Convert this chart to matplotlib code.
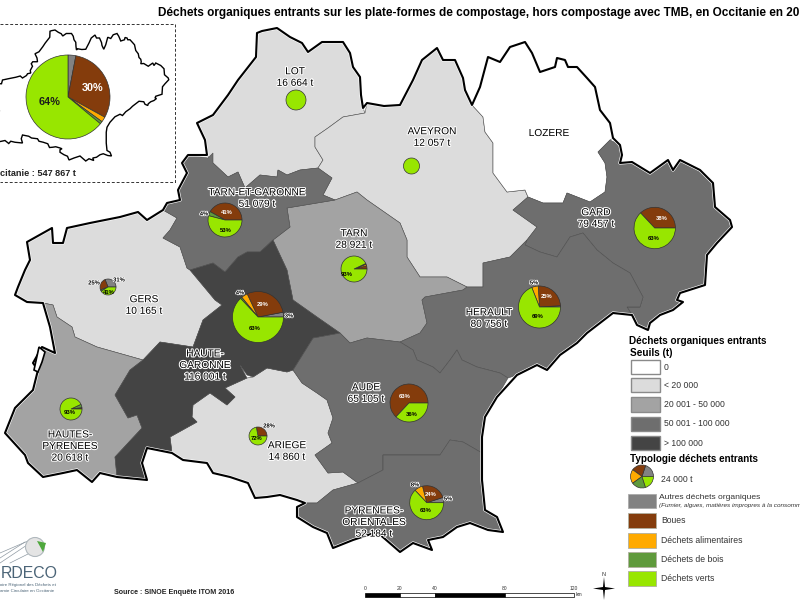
import matplotlib
matplotlib.use("Agg")
import matplotlib.pyplot as plt
import matplotlib.patheffects as pe
from matplotlib.patches import Polygon, Rectangle, Circle

plt.rcParams['font.family'] = ['Liberation Sans', 'DejaVu Sans']

LIGHT, MID, DARK, DARKEST = '#dcdcdc', '#a3a3a3', '#6e6e6e', '#444444'
C_PIE = ['#828282', '#843c0c', '#ffaa00', '#5f9a3c', '#98e600']

# department outlines (pixel positions)
lot = [(257,33),(262,31),(277,28),(290,37),(302,43),(308,52),(322,42),(343,42),(350,53),(353,67),(360,77),(361,95),(363,108),(365,113),
       (343,117),(328,128),(315,137),(315,147),(323,160),(318,168),(300,170),(287,175),(278,170),(277,177),(260,175),(245,188),(238,172),(228,177),(213,163),(207,155),(205,140),(197,123),(213,115),(228,95),(238,80),(256,57)]
aveyron = [(365,113),(367,103),(384,106),(400,105),(413,80),(422,60),(437,48),(443,60),(455,60),(463,78),(465,90),(472,105),
           (483,117),(485,132),(493,143),(493,173),(507,192),(525,190),(528,197),(513,210),(537,227),(527,240),(510,257),(483,263),(483,287),(467,287),(447,277),(420,277),(407,257),(407,240),(400,223),(367,200),(357,192),(335,200),(323,195),(332,178),(318,168),(323,160),(315,147),(315,137),(328,128),(343,117)]
lozere = [(472,105),(480,87),(488,57),(500,62),(510,47),(525,42),(532,53),(540,72),(555,67),(557,58),(565,60),(568,67),(577,67),(587,78),(595,87),(600,110),(610,123),(613,138),(610,140),
          (598,152),(605,163),(607,177),(605,192),(590,202),(567,193),(563,203),(543,203),(528,197),(525,190),(507,192),(493,173),(493,143),(485,132),(483,117)]
gard = [(610,140),(620,145),(622,155),(620,163),(632,162),(650,173),(668,160),(673,170),(680,160),(700,170),(713,183),(715,207),(730,220),(732,227),(717,243),(707,255),(705,285),(680,293),(677,300),(683,302),
        (673,310),(660,315),(650,323),(648,330),(637,325),(632,315),(627,307),(640,307),(643,297),(630,273),(613,263),(597,250),(583,233),(570,237),(557,257),(540,252),(525,245),(527,240),(537,227),(513,210),(528,197),(543,203),(563,203),(567,193),(590,202),(605,192),(607,177),(605,163),(598,152)]
herault = [(400,342),(420,333),(427,323),(422,300),(425,297),(463,290),(467,287),(483,287),(483,263),(510,257),(527,240),(525,245),(540,252),(557,257),(570,237),(583,233),(597,250),(613,263),(630,273),(643,297),(640,307),(627,307),(632,315),
           (613,313),(587,333),(577,343),(560,355),(547,370),(537,365),(517,375),(508,378),(500,373),(477,367),(462,360),(457,350),(450,360),(440,373),(433,367),(417,360),(413,350)]
tarn = [(273,240),(290,227),(287,208),(317,203),(335,200),(357,192),(367,200),(400,223),(407,240),(407,257),(420,277),(447,277),(467,287),(463,290),(425,297),(422,300),(427,323),(420,333),(400,342),(367,338),(350,343),(340,333),(317,317),(293,300),(287,270)]
tg = [(188,155),(208,158),(213,153),(213,163),(228,177),(238,172),(245,188),(260,175),(277,177),(278,170),(287,175),(300,170),(318,168),(332,178),(323,195),(335,200),(317,203),(287,208),(290,227),(273,240),(260,252),(247,252),(238,257),(225,272),(213,263),(190,270),(187,268),(180,247),(163,238),(170,230),(177,218),(163,210),(167,203),(180,200),(178,190),(187,173),(182,163)]
gers = [(163,210),(147,220),(138,212),(120,217),(90,223),(67,228),(63,243),(53,243),(52,228),(27,242),(30,260),(25,270),(18,287),(15,295),(27,302),(43,303),(53,305),(57,317),(72,327),(75,337),(97,347),(143,360),(160,342),(193,347),(203,320),(222,305),(215,300),(190,270),(187,268),(180,247),(163,238),(170,230),(177,218)]
hgar = [(190,270),(213,263),(225,272),(238,257),(247,252),(260,252),(273,240),(287,270),(293,300),(317,317),(340,333),(313,338),(293,370),(287,372),(267,368),(253,377),(247,375),(240,365),(247,378),(225,388),(235,397),(227,405),(210,393),(193,405),(192,417),(197,422),(170,437),(172,453),(147,448),(142,463),(147,480),(117,477),(115,457),(142,428),(137,415),(128,418),(115,395),(130,370),(143,360),(160,342),(193,347),(203,320),(222,305),(215,300)]
hpyr = [(43,303),(53,305),(57,317),(72,327),(75,337),(97,347),(143,360),(130,370),(115,395),(128,418),(137,415),(142,428),(115,457),(117,477),(100,473),(92,482),(77,470),(63,473),(43,477),(28,463),(25,455),(5,433),(15,408),(33,390),(38,370),(33,363),(42,347),(55,353),(50,327)]
ariege = [(170,437),(197,422),(192,417),(193,405),(210,393),(227,405),(235,397),(225,388),(247,378),(253,377),(267,368),(287,372),(293,370),(302,383),(317,393),(327,400),(333,418),(328,433),(332,443),(315,455),(328,473),(343,472),(358,483),(333,490),(317,503),(305,503),(297,500),(280,495),(267,497),(255,498),(248,483),(230,477),(213,473),(207,463),(183,460),(172,453)]
aude = [(293,370),(313,338),(340,333),(350,343),(367,338),(400,342),(413,350),(417,360),(433,367),(440,373),(450,360),(457,350),(462,360),(477,367),(500,373),(508,378),(497,397),(485,417),(482,437),(482,453),(463,442),(450,440),(440,455),(400,455),(383,455),(383,470),(358,483),(343,472),(328,473),(315,455),(332,443),(328,433),(333,418),(327,400),(317,393),(302,383)]
pyror = [(358,483),(383,470),(383,455),(400,455),(440,455),(450,440),(463,442),(482,453),(482,480),(485,510),(497,517),(503,532),(488,530),(470,523),(457,527),(443,537),(428,540),(432,550),(413,543),(400,552),(377,532),(353,540),(333,548),(327,533),(313,527),(297,517),(297,507),(305,503),(317,503),(333,490)]
outer = [(257,33),(262,31),(277,28),(290,37),(302,43),(308,52),(322,42),(343,42),(350,53),(353,67),(360,77),(361,95),(363,108),(367,103),(384,106),(400,105),(413,80),(422,60),(437,48),(443,60),(455,60),(463,78),(465,90),(472,105),
         (480,87),(488,57),(500,62),(510,47),(525,42),(532,53),(540,72),(555,67),(557,58),(565,60),(568,67),(577,67),(587,78),(595,87),(600,110),(610,123),(613,138),(620,145),(622,155),(620,163),(632,162),(650,173),(668,160),(673,170),(680,160),(700,170),(713,183),(715,207),(730,220),(732,227),(717,243),(707,255),(705,285),(680,293),(677,300),(683,302),
         (673,310),(660,315),(650,323),(648,330),(637,325),(632,315),(613,313),(587,333),(577,343),(560,355),(547,370),(537,365),(517,375),(497,397),(485,417),(482,437),(482,480),(485,510),(497,517),(503,532),(488,530),(470,523),(457,527),(443,537),(428,540),(432,550),(413,543),(400,552),(377,532),(353,540),(333,548),(327,533),(313,527),(297,517),(297,507),(305,503),
         (297,500),(280,495),(267,497),(255,498),(248,483),(230,477),(213,473),(207,463),(183,460),(172,453),(147,448),(142,463),(147,480),(117,477),(100,473),(92,482),(77,470),(63,473),(43,477),(28,463),(25,455),(5,433),(15,408),(33,390),(38,370),(33,363),(42,347),(55,353),(50,327),(43,303),(27,302),(15,295),(18,287),(25,270),(30,260),(27,242),(52,228),(53,243),(63,243),(67,228),(90,223),(120,217),(138,212),(147,220),(163,210),(167,203),(180,200),(178,190),(187,173),(182,163),(188,155),(207,155),(205,140),(197,123),(213,115),(228,95),(238,80),(256,57)]
enclave = [(34,370),(39,347),(45,352),(42,362),(38,372)]

departments = [('lot',lot,LIGHT),('aveyron',aveyron,LIGHT),('lozere',lozere,'white'),('gers',gers,LIGHT),('ariege',ariege,LIGHT),
               ('tarn',tarn,MID),('hpyr',hpyr,MID),('gard',gard,DARK),('herault',herault,DARK),('tg',tg,DARK),('aude',aude,DARK),('pyror',pyror,DARK),('hgar',hgar,DARKEST)]

# share of each waste type: autres, boues, alimentaires, bois, verts
pie_lot = [0,0,0,0,100]
pie_aveyron = [0,0,0,0,100]
pie_tg = [0,41,0,4,53]
pie_tarn = [0,4,2,1,93]
pie_gard = [0,37,0,0,63]
pie_herault = [1,25,5,0,69]
pie_gers = [31,25,0,3,41]
pie_hgar = [3,29,4,1,63]
pie_aude = [0,63,0,0,37]
pie_hpyr = [0,2,0,5,93]
pie_ariege = [0,28,0,0,72]
pie_pyror = [5,24,8,0,63]
pie_total = [3,30,2,1,64]
pie_legend = [20,20,20,20,20]

pies = [(pie_lot,296,100,10),(pie_aveyron,411.5,166,8),(pie_tg,225,220,17),(pie_tarn,354,269,13),(pie_gard,654.7,228,20.7),
        (pie_herault,539.5,307,21),(pie_gers,108,287,8),(pie_hgar,258,317,25.5),(pie_aude,409,403,19),(pie_hpyr,71,409,11),
        (pie_ariege,258,436,9),(pie_pyror,426.7,502.7,17),(pie_legend,642,476.5,11.5)]

dept_labels = [('LOT\n16 664 t',295,77),('AVEYRON\n12 057 t',432,137),('LOZERE',549,133),('TARN-ET-GARONNE\n51 079 t',257,198),('TARN\n28 921 t',354,239),
               ('GARD\n79 457 t',596,218),('HERAULT\n80 756 t',489,318),('GERS\n10 165 t',144,305),('HAUTE-\nGARONNE\n116 001 t',205,365),('AUDE\n65 105 t',366,393),
               ('HAUTES-\nPYRENEES\n20 618 t',70,446),('ARIEGE\n14 860 t',287,451),('PYRENEES-\nORIENTALES\n52 184 t',374,522)]
pct_labels = [('41%',227,212,'w'),('53%',226,230,'k'),('4%',204,214,'h'),('93%',347,274,'k'),('38%',662,219,'w'),('63%',654,238,'k'),
              ('5%',534,283,'h'),('25%',547,296,'w'),('69%',538,316,'k'),('31%',119,280,'h'),('25%',94,283,'h'),('41%',109,292,'k'),
              ('4%',240,293,'h'),('29%',263,305,'w'),('3%',289,316,'h'),('63%',255,329,'k'),('63%',405,396,'w'),('36%',412,415,'k'),
              ('93%',70,413,'k'),('28%',269,426,'h'),('72%',257,439,'k'),('8%',415,485,'h'),('24%',431,494,'w'),('5%',448,499,'h'),('63%',426,511,'k')]
seuils = ['0','< 20 000','20 001 - 50 000','50 001 - 100 000','> 100 000']
seuil_colors = ['white',LIGHT,MID,DARK,DARKEST]
seuil_y = [359.5,377.5,397,416.5,435.5]
types = ['Boues','Déchets alimentaires','Déchets de bois','Déchets verts']
type_y = [513,533,552,571]
scale_ticks = [0,20,40,80,120]
scale_x = [365,400,435,505,574]

H = 600
def fy(y): return H - y
def flip(pts): return [(x, H - y) for x, y in pts]

fig = plt.figure(figsize=(8,6), dpi=100)
ax = fig.add_axes([0,0,1,1])

for name, pts, col in departments:
    ax.add_patch(Polygon(flip(pts), closed=True, facecolor=col, edgecolor='#4d4d4d', lw=0.4, zorder=2))
ax.add_patch(Polygon(flip(outer), closed=True, fill=False, edgecolor='black', lw=1.5, joinstyle='round', zorder=3,
                     path_effects=[pe.withStroke(linewidth=2.4, foreground='white')]))
ax.add_patch(Polygon(flip(enclave), closed=True, facecolor='white', edgecolor='black', lw=1.2, zorder=3))

def draw_pie(vals, x, y, r, start=0, cc=True):
    nz = [(v, c) for v, c in zip(vals, C_PIE) if v > 0]
    ax.pie([v for v, c in nz], colors=[c for v, c in nz], center=(x, fy(y)), radius=r, startangle=start, counterclock=cc,
           frame=True, normalize=True, wedgeprops=dict(edgecolor='#333333', lw=0.5, zorder=5))

for vals, x, y, r in pies:
    draw_pie(vals, x, y, r)

for s, x, y in dept_labels:
    ax.text(x, fy(y), s, ha='center', va='center', fontsize=7.3, color='black', linespacing=1.2, zorder=7,
            path_effects=[pe.withStroke(linewidth=1.5, foreground='white')])
for s, x, y, kind in pct_labels:
    col = {'w':'white','k':'black','h':'black'}[kind]
    ax.text(x, fy(y), s, ha='center', va='center', fontsize=4.2, color=col, fontweight='bold', zorder=8,
            path_effects=[pe.withStroke(linewidth=1.0, foreground='white')] if kind == 'h' else None)

# inset
inset_tf = lambda pts: [(0.25*x - 14.25, 0.25*y + 23) for x, y in pts]
ax.add_patch(Polygon(flip(inset_tf(outer)), closed=True, facecolor='white', edgecolor='black', lw=1.0, zorder=4))
ax.plot([0,174.5,174.5,0],[fy(24),fy(24),fy(182),fy(182)], color='#333333', lw=0.7, ls=(0,(3,2)), zorder=4)
draw_pie(pie_total, 68, 97, 42, start=90, cc=False)
ax.text(92.5, fy(88), '30%', ha='center', va='center', color='white', fontsize=7.8, fontweight='bold', zorder=8)
ax.text(50, fy(102), '64%', ha='center', va='center', color='#1c1c1c', fontsize=7.8, fontweight='bold', zorder=8)
ax.text(0.5, fy(174), 'citanie : 547 867 t', ha='left', va='center', fontsize=6.6, fontweight='bold', color='#222222', zorder=8)

# title (the reference shows it cut at this point by the picture edge)
ax.text(158, fy(13), 'Déchets organiques entrants sur les plate-formes de compostage, hors compostage avec TMB, en Occitanie en 20',
        ha='left', va='center', fontsize=8.48, fontweight='bold', zorder=8)

# legend
ax.text(629, fy(341), 'Déchets organiques entrants', fontsize=7.2, fontweight='bold', ha='left', va='center')
ax.text(630, fy(352.5), 'Seuils (t)', fontsize=7.2, fontweight='bold', ha='left', va='center')
for s, c, y in zip(seuils, seuil_colors, seuil_y):
    ax.add_patch(Rectangle((630.5, fy(y+14.5)), 29, 14.5, facecolor=c, edgecolor='#8a8a8a', lw=1.0))
    ax.text(664, fy(y+7.5), s, fontsize=6.2, color='#333333', ha='left', va='center')
ax.text(630, fy(459), 'Typologie déchets entrants', fontsize=7.1, fontweight='bold', ha='left', va='center')
ax.text(661, fy(479), '24 000 t', fontsize=6.2, color='#333333', ha='left', va='center')
ax.add_patch(Rectangle((628, fy(508)), 28, 14.5, facecolor=C_PIE[0], edgecolor='#aaaaaa', lw=0.6))
ax.text(659, fy(497.5), 'Autres déchets organiques', fontsize=6.1, color='#333333', ha='left', va='center')
ax.text(659, fy(506), '(Fumier, algues, matières impropres à la consomm', fontsize=4.6, style='italic', color='#333333', ha='left', va='center')
for s, c, y in zip(types, C_PIE[1:], type_y):
    ax.add_patch(Rectangle((628, fy(y+14.5)), 28, 14.5, facecolor=c, edgecolor='#b0b0a0', lw=0.6))
    ax.text(661, fy(y+7.5), s, fontsize=6.2, color='#333333', ha='left', va='center')

# source, scale, north arrow
ax.text(114, fy(592.5), 'Source : SINOE Enquête ITOM 2016', fontsize=5.1, fontweight='bold', color='#222222', ha='left', va='center')
for i in range(4):
    ax.add_patch(Rectangle((scale_x[i], fy(596.5)), scale_x[i+1]-scale_x[i], 4, facecolor='black' if i in (0,2) else 'white', edgecolor='black', lw=0.5))
for t, x in zip(scale_ticks, scale_x):
    ax.text(x, fy(589), str(t), fontsize=3.6, ha='center', va='center', color='#333333')
ax.text(576, fy(595), 'km', fontsize=3.6, ha='left', va='center', color='#333333')
ax.add_patch(Polygon(flip([(604,577),(605,587),(615,588.5),(605,590),(604,600),(603,590),(593,588.5),(603,587)]), closed=True, facecolor='black', edgecolor='none'))
ax.text(604, fy(574), 'N', fontsize=4, ha='center', va='center', color='#333333')

# logo
for (x0, y0, x1, y1) in [(0,563,27,545),(0,558,25,542),(10,563,30,553),(0,553,28,541)]:
    ax.plot([x0, x1], [fy(y0), fy(y1)], color='#8f9aa3', lw=0.5, zorder=2)
ax.add_patch(Circle((35, fy(547)), 9.5, facecolor='#e4e4e4', edgecolor='#b0b8bd', lw=0.8, zorder=3))
ax.add_patch(Polygon(flip([(37,541),(46,543),(43,552)]), closed=True, facecolor='#4fa83d', edgecolor='none', zorder=4))
ax.text(1, fy(573), 'RDECO', fontsize=11.4, color='#4b6477', ha='left', va='center')
ax.text(0, fy(585), 'oire Régional des Déchets et', fontsize=3.2, color='#4b6477', ha='left', va='center')
ax.text(0, fy(590.5), 'amie Circulaire en Occitanie', fontsize=3.2, color='#4b6477', ha='left', va='center')

ax.set_xlim(0, 800)
ax.set_ylim(0, 600)
ax.set_aspect('equal')
ax.axis('off')
fig.savefig('out.png', dpi=100)
